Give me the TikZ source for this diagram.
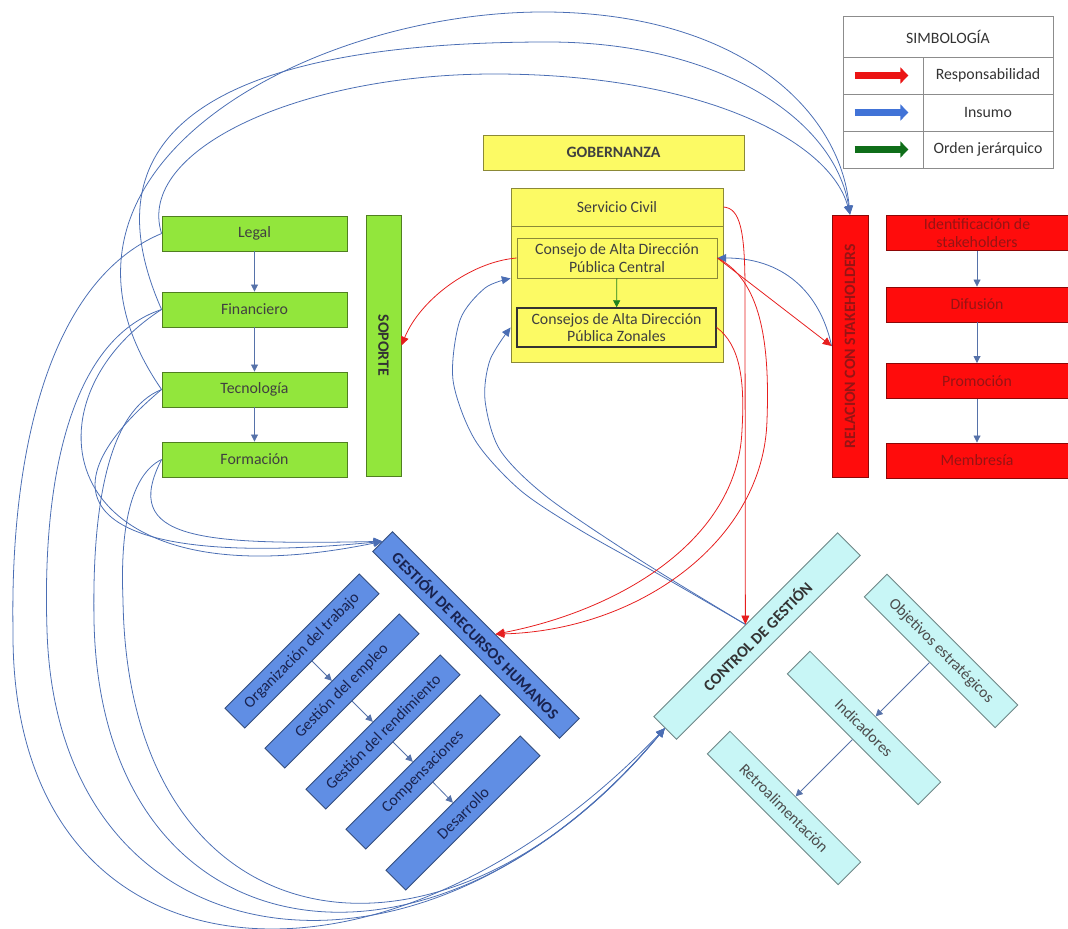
\documentclass[tikz,border=0pt]{standalone}
\usepackage{fontspec}
\setmainfont{Carlito}
\usepackage{graphicx}
\usetikzlibrary{arrows.meta,calc}

\definecolor{verdesoporte}{RGB}{146,230,60}
\definecolor{amarillogob}{RGB}{252,250,100}
\definecolor{rojorel}{RGB}{255,12,12}
\definecolor{textorojo}{RGB}{150,20,20}
\definecolor{azulrh}{RGB}{96,142,228}
\definecolor{textoazul}{RGB}{25,35,80}
\definecolor{cianctrl}{RGB}{200,246,246}
\definecolor{lineainsumo}{RGB}{75,110,180}
\definecolor{linearesp}{RGB}{230,30,30}
\definecolor{lineajer}{RGB}{30,130,30}
\definecolor{legrojo}{RGB}{235,20,20}
\definecolor{legazul}{RGB}{65,115,215}
\definecolor{legverde}{RGB}{15,110,25}

\tikzset{
  caja/.style={draw=#1!55!black, fill=#1, line width=0.5pt, inner sep=1pt, align=center,
    font=\fontsize{9}{10}\selectfont},
  soportecaja/.style={caja=verdesoporte, minimum width=3.7cm, minimum height=0.7cm, text=black!75},
  gobcaja/.style={caja=amarillogob, text=black!75},
  relcaja/.style={caja=rojorel, minimum width=3.64cm, minimum height=0.7cm, text=textorojo},
  rhcaja/.style={caja=azulrh, rotate=45, minimum width=3.8cm, minimum height=0.56cm, text=textoazul},
  ctrlcaja/.style={caja=cianctrl, rotate=-45, minimum width=3.7cm, minimum height=0.64cm, text=black!70},
  insumo/.style={draw=lineainsumo, line width=0.45pt, -{Triangle[length=5pt,width=4.5pt]}},
  respons/.style={draw=linearesp, line width=0.45pt, -{Triangle[length=5pt,width=4.5pt]}},
  paso/.style={draw=lineainsumo!80!gray, line width=0.45pt, -{Triangle[length=4pt,width=4pt]}},
  legcelda/.style={draw=black!45, minimum height=0.74cm, inner sep=0pt,
    font=\fontsize{9}{10}\selectfont, text=black!80},
  legflecha/.style={line width=4.5pt, -{Triangle[length=4.5pt,width=9pt]}},
}

\begin{document}
\begin{tikzpicture}[x=0.02cm, y=-0.02cm]
\useasboundingbox (0,0) rectangle (1068,929);
%
% simbologia
\node[legcelda, minimum width=4.2cm, minimum height=0.82cm] (simb) at (948,36.5) {SIMBOLOGÍA};
\foreach \fila/\yy/\col/\txt in {1/75.5/legrojo/Responsabilidad, 2/112.5/legazul/Insumo, 3/149.5/legverde/Orden jerárquico}{
  \node[legcelda, minimum width=1.6cm] (clave\fila) at (883,\yy) {};
  \node[legcelda, minimum width=2.6cm] (texto\fila) at (988,\yy) {\txt};
  \draw[legflecha, \col] ($(clave\fila.west)+(12,0)$) -- ($(clave\fila.east)+(-15,0)$);
}
%
% gobernanza
\node[gobcaja, minimum width=5.22cm, minimum height=0.7cm] (gob) at (613.5,152.5) {\textbf{GOBERNANZA}};
\node[gobcaja, minimum width=4.24cm, minimum height=3.48cm] (sc) at (617,275) {};
\node[minimum width=4.24cm, minimum height=0.76cm, inner sep=0pt, text=black!75,
  font=\fontsize{9}{10}\selectfont] (scl) at (617,207) {Servicio Civil};
\draw[amarillogob!55!black, line width=0.5pt] (scl.south west) -- (scl.south east);
\node[gobcaja, minimum width=4cm, minimum height=0.8cm] (cen) at (617,258) {Consejo de Alta Dirección\\Pública Central};
\node[gobcaja, draw=black!80, line width=0.8pt, minimum width=3.98cm, minimum height=0.78cm] (zon) at (616.5,327.5) {Consejos de Alta Dirección\\Pública Zonales};
\draw[draw=lineajer, line width=0.45pt, -{Triangle[length=4pt,width=4pt]}] (cen) -- (zon);
%
% soporte
\node[soportecaja] (leg) at (254.5,233.5) {Legal};
\node[soportecaja] (fin) at (254.5,309.5) {Financiero};
\node[soportecaja] (tec) at (254.5,389.5) {Tecnología};
\node[soportecaja] (form) at (254.5,459.5) {Formación};
\node[caja=verdesoporte, minimum width=0.7cm, minimum height=5.22cm, text=black!80] (sop) at (383.5,345.5) {\rotatebox{-90}{\textbf{SOPORTE}}};
\foreach \a/\b in {leg/fin,fin/tec,tec/form}
  \draw[paso] (\a) -- (\b);
%
% relacion con stakeholders
\node[caja=rojorel, minimum width=0.72cm, minimum height=5.24cm, text=textorojo] (rel) at (850,346) {\rotatebox{90}{\textbf{RELACION CON STAKEHOLDERS}}};
\node[relcaja] (ide) at (977,233) {Identificación de\\stakeholders};
\node[relcaja] (dif) at (977,304.5) {Difusión};
\node[relcaja] (pro) at (977,381) {Promoción};
\node[relcaja] (mem) at (977,460.5) {Membresía};
\foreach \a/\b in {ide/dif,dif/pro,pro/mem}
  \draw[paso] (\a) -- (\b);
%
% recursos humanos
\node[caja=azulrh, rotate=-45, minimum width=5.28cm, minimum height=0.56cm, text=textoazul] (grh) at (476,635) {\textbf{GESTIÓN DE RECURSOS HUMANOS}};
\node[rhcaja] (org) at (302,651) {Organización del trabajo};
\node[rhcaja] (emp) at (342,691) {Gestión del empleo};
\node[rhcaja] (ren) at (383,732) {Gestión del rendimiento};
\node[rhcaja] (com) at (423,772) {Compensaciones};
\node[rhcaja] (des) at (463,813) {Desarrollo};
\foreach \a/\b in {org/emp,emp/ren,ren/com,com/des}
  \draw[paso] (\a) -- (\b);
%
% control de gestion
\node[caja=cianctrl, rotate=45, minimum width=5.2cm, minimum height=0.64cm, text=black!80] (ctrl) at (757,636) {\textbf{CONTROL DE GESTIÓN}};
\node[ctrlcaja] (obj) at (941,651) {Objetivos estratégicos};
\node[ctrlcaja] (ind) at (864,728) {Indicadores};
\node[ctrlcaja] (ret) at (784,808) {Retroalimentación};
\foreach \a/\b in {obj/ind,ind/ret}
  \draw[paso] (\a) -- (\b);
%
\coordinate (cenin) at (cen.south west -| sc.west);
\coordinate (zonin) at (zon.west -| sc.west);
\coordinate (rhin) at ($(grh.north west)!0.55!(grh.north east)$);
%
% insumos de soporte
\draw[insumo] (leg.west) .. controls (135,150) and (300,74) .. (494,74) .. controls (700,74) and (830,140) .. (rel.north);
\draw[insumo] (fin.west) .. controls (60,80) and (330,42) .. (548,42) .. controls (720,42) and (835,120) .. (rel.north);
\draw[insumo] (tec.west) .. controls (10,170) and (310,10) .. (548,12) .. controls (740,14) and (840,110) .. (rel.north);
\draw[insumo] (form.west) .. controls (120,540) and (200,545) .. (grh.west);
\draw[insumo] (tec.west) .. controls (30,500) and (90,570) .. (grh.west);
\draw[insumo] (fin.west) .. controls (20,400) and (50,610) .. (grh.west);
\draw[insumo] (leg.west) .. controls (50,280) and (10,450) .. (13,630) .. controls (10,990) and (380,1025) .. (ctrl.west);
\draw[insumo] (fin.west) .. controls (70,340) and (42,480) .. (47,630) .. controls (57,970) and (420,1020) .. (ctrl.west);
\draw[insumo] (tec.west) .. controls (110,410) and (92,500) .. (94,620) .. controls (100,960) and (430,1010) .. (ctrl.west);
\draw[insumo] (form.west) .. controls (130,475) and (120,530) .. (123,600) .. controls (128,950) and (440,1000) .. (ctrl.west);
%
% insumos hacia gobernanza
\draw[insumo] plot[smooth] coordinates {(ctrl.north) (660,575) (580,530) (520,490) (475,440) (453,380) (460,320) (485,288) (cenin)};
\draw[insumo] plot[smooth] coordinates {(ctrl.north) (640,560) (547,497) (500,450) (485,400) (490,360) (zonin)};
\draw[insumo] (rel.west) .. controls (822,300) and (790,258) .. (cen.east);
%
% responsabilidades
\draw[respons] (scl.east) .. controls (740,208) and (745,230) .. (745,290) -- (ctrl.north);
\draw[respons] (cen.east) -- (rel.west);
\draw[respons] (cen.west) .. controls (470,262) and (420,300) .. (sop.east);
\draw[respons] (cen.east) .. controls (760,280) and (770,340) .. (767,420) .. controls (764,540) and (640,630) .. (rhin);
\draw[respons] (zon.east) .. controls (740,345) and (745,380) .. (742,430) .. controls (738,540) and (620,610) .. (rhin);
\end{tikzpicture}
\end{document}
